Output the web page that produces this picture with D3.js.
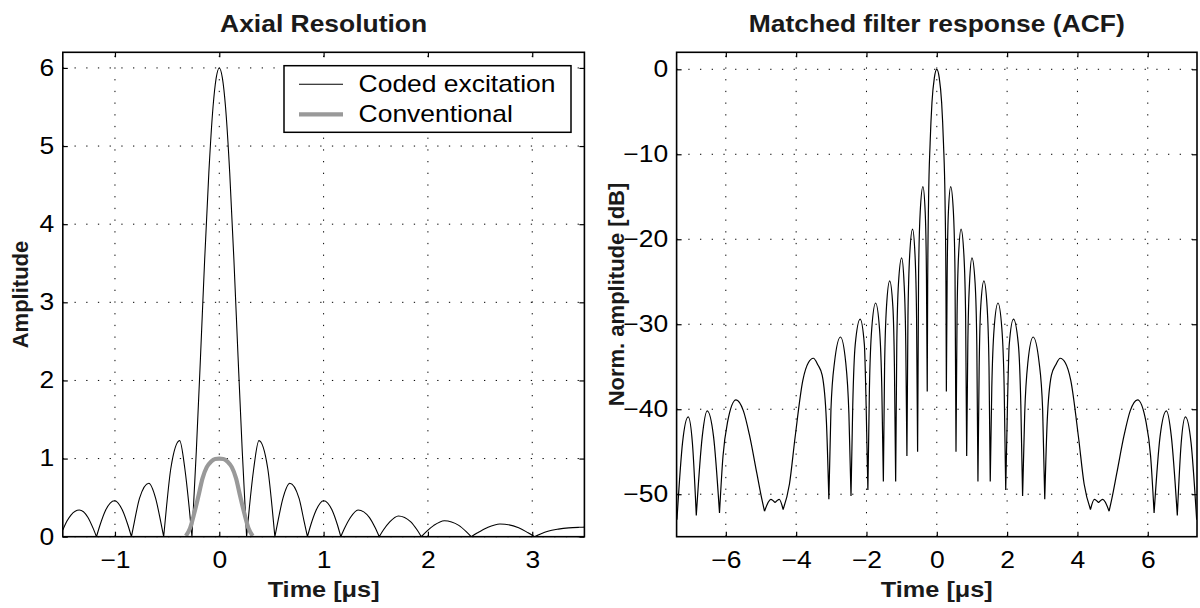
<!DOCTYPE html>
<html>
<head>
<meta charset="utf-8">
<script src="https://cdn.jsdelivr.net/npm/d3@7"></script>
<style>
  body { margin: 0; background: #fff; }
  svg { display: block; background: #fff; }
  .grid line { stroke: #000; stroke-width: 1; stroke-dasharray: 1.3 10.4; }
</style>
</head>
<body>
<svg width="1200" height="608"></svg>
<script>
// values
const codedTime = [-1.5, -1.46, -1.42, -1.342, -1.26, -1.21, -1.177, -1.143, -1.093, -1.004, -0.925, -0.876, -0.842,
  -0.811, -0.765, -0.675, -0.61, -0.564, -0.533, -0.506, -0.465, -0.38, -0.33, -0.289, -0.262,
  -0.22, -0.18, -0.14, -0.10, -0.06, -0.03, 0, 0.03, 0.06, 0.10, 0.14, 0.18, 0.22,
  0.262, 0.289, 0.33, 0.38, 0.465, 0.506, 0.533, 0.564, 0.61, 0.676, 0.765, 0.811, 0.845,
  0.877, 0.925, 1.0, 1.085, 1.133, 1.165, 1.202, 1.257, 1.33, 1.44, 1.496, 1.533,
  1.573, 1.634, 1.717, 1.836, 1.897, 1.937, 1.985, 2.057, 2.157, 2.296, 2.367, 2.415,
  2.476, 2.567, 2.69, 2.87, 2.96, 3.022, 3.08, 3.15, 3.25, 3.35, 3.45, 3.5];
const codedAmp = [0.086, 0.2, 0.28, 0.342, 0.25, 0.11, 0, 0.15, 0.33, 0.461, 0.33, 0.15, 0,
  0.21, 0.49, 0.684, 0.49, 0.21, 0, 0.38, 0.87, 1.23, 0.87, 0.38, 0,
  1.1, 2.3, 3.55, 4.66, 5.5, 5.87, 6.0, 5.87, 5.5, 4.66, 3.55, 2.3, 1.1,
  0, 0.38, 0.87, 1.23, 0.87, 0.38, 0, 0.21, 0.49, 0.684, 0.49, 0.21, 0,
  0.15, 0.33, 0.461, 0.33, 0.15, 0, 0.11, 0.245, 0.342, 0.245, 0.11, 0,
  0.085, 0.19, 0.265, 0.19, 0.085, 0, 0.065, 0.145, 0.205, 0.145, 0.065, 0,
  0.05, 0.115, 0.163, 0.115, 0.05, 0, 0.035, 0.07, 0.097, 0.113, 0.12, 0.122];

const convTime = [-0.32, -0.28, -0.24, -0.2, -0.16, -0.12, -0.08, -0.04, 0, 0.04, 0.08, 0.12, 0.16, 0.2, 0.24, 0.28, 0.32];
const convAmp = [0.01, 0.11, 0.30, 0.52, 0.75, 0.89, 0.96, 0.995, 1.0, 0.995, 0.96, 0.89, 0.75, 0.52, 0.30, 0.11, 0.01];

const acfTime = [-7.39, -7.23, -7.07, -6.95, -6.84, -6.67, -6.53, -6.35, -6.18,
  -6.08, -5.95, -5.71, -5.50, -5.33, -5.12, -4.98, -4.90, -4.72, -4.60, -4.48, -4.37,
  -4.19, -4.03, -3.81, -3.65, -3.51, -3.38, -3.26, -3.14, -3.07,
  -3.01, -2.91, -2.74, -2.59, -2.50, -2.44, -2.39, -2.32, -2.18, -2.06, -2.01, -1.96,
  -1.916, -1.85, -1.74, -1.63, -1.564, -1.52, -1.485, -1.43, -1.34, -1.25, -1.205, -1.17,
  -1.138, -1.09, -1.0, -0.93, -0.882, -0.85, -0.82, -0.77, -0.69, -0.62, -0.576, -0.546,
  -0.518, -0.472, -0.395, -0.33, -0.295, -0.272,
  -0.26, -0.234, -0.19, -0.1375, -0.07, 0, 0.07, 0.1375, 0.19, 0.234, 0.26,
  0.272, 0.295, 0.33, 0.395, 0.472, 0.518, 0.546, 0.576, 0.62, 0.69, 0.77, 0.82, 0.85,
  0.882, 0.93, 1.0, 1.09, 1.138, 1.17, 1.205, 1.25, 1.34, 1.43, 1.485, 1.52,
  1.564, 1.63, 1.74, 1.85, 1.916, 1.96, 2.01, 2.06, 2.18, 2.32, 2.39, 2.44,
  2.50, 2.59, 2.74, 2.91, 3.01, 3.07, 3.14, 3.26, 3.38, 3.51, 3.65, 3.81, 4.03, 4.19, 4.37,
  4.48, 4.60, 4.72, 4.90, 4.98, 5.12, 5.33, 5.50, 5.71, 5.95, 6.08, 6.18,
  6.35, 6.53, 6.67, 6.84, 6.95, 7.07, 7.23, 7.39];
const acfDb = [-53.0, -43.9, -40.9, -44.0, -52.5, -43.2, -40.2, -43.2, -52.2,
  -45.5, -41.5, -38.9, -40.2, -43.0, -47.5, -50.5, -52.0, -50.6, -51.0, -50.6, -51.8,
  -48.8, -43.3, -36.6, -34.5, -34.0, -34.8, -36.0, -41.4, -50.6,
  -40.0, -34.5, -31.5, -34.5, -40.5, -50.2, -39.5, -32.4, -29.4, -32.4, -39.5, -49.5,
  -37.5, -30.5, -27.5, -30.5, -37.5, -48.5, -35.0, -27.9, -24.9, -27.9, -35.0, -48.5,
  -32.4, -25.2, -22.2, -25.2, -32.4, -45.5, -29.0, -21.8, -18.8, -21.8, -29.0, -45.0,
  -24.0, -16.8, -13.8, -16.8, -24.0, -37.9,
  -25.6, -15.4, -8.7, -3.9, -1.0, 0, -1.0, -3.9, -8.7, -15.4, -25.6,
  -37.9, -24.0, -16.8, -13.8, -16.8, -24.0, -45.0, -29.0, -21.8, -18.8, -21.8, -29.0, -45.5,
  -32.4, -25.2, -22.2, -25.2, -32.4, -48.5, -35.0, -27.9, -24.9, -27.9, -35.0, -48.5,
  -37.5, -30.5, -27.5, -30.5, -37.5, -49.5, -39.5, -32.4, -29.4, -32.4, -39.5, -50.2,
  -40.5, -34.5, -31.5, -34.5, -40.0, -50.6, -41.4, -36.0, -34.8, -34.0, -34.5, -36.6, -43.3, -48.8, -51.8,
  -50.6, -51.0, -50.6, -52.0, -50.5, -47.5, -43.0, -40.2, -38.9, -41.5, -45.5, -52.2,
  -43.2, -40.2, -43.2, -52.5, -44.0, -40.9, -43.9, -53.0];

const axialTicksX = [-1, 0, 1, 2, 3];
const axialTicksY = [0, 1, 2, 3, 4, 5, 6];
const acfTicksX = [-6, -4, -2, 0, 2, 4, 6];
const acfTicksY = [0, -10, -20, -30, -40, -50];
const legendLabels = ['Coded excitation', 'Conventional'];

const FONT = "'Liberation Sans', Arial, Helvetica, sans-serif";
const WIDE = 1.15; // the reference text is drawn a little wider than Arial
const fmt = d3.format('d');

const svg = d3.select('svg');

// split a curve at its nulls so every lobe gets its own smooth piece (sharp cusps between lobes)
function lobes(ts, vs) {
  const pts = ts.map((t, i) => [t, vs[i]]);
  const segs = [];
  let cur = [pts[0]];
  for (let i = 1; i < pts.length; i++) {
    cur.push(pts[i]);
    if (i < pts.length - 1 && pts[i][1] < pts[i - 1][1] && pts[i][1] <= pts[i + 1][1]) {
      segs.push(cur);
      cur = [pts[i]];
    }
  }
  segs.push(cur);
  return segs;
}

function panel(box, xDomain, yDomain, xTicks, yTicks, id) {
  const w = box.width, h = box.height;
  const g = svg.append('g').attr('transform', `translate(${box.left},${box.top})`);
  const x = d3.scaleLinear().domain(xDomain).range([0, w]);
  const y = d3.scaleLinear().domain(yDomain).range([h, 0]);

  g.append('clipPath').attr('id', id).append('rect').attr('width', w).attr('height', h);

  // dotted grid
  g.append('g').attr('class', 'grid').selectAll('line').data(xTicks).join('line')
    .attr('x1', d => x(d)).attr('x2', d => x(d)).attr('y1', h).attr('y2', 0);
  g.append('g').attr('class', 'grid').selectAll('line').data(yTicks).join('line')
    .attr('x1', 0).attr('x2', w).attr('y1', d => y(d)).attr('y2', d => y(d));

  const styleAxis = a => {
    a.select('.domain').remove();
    a.attr('font-family', FONT).attr('font-size', 23);
    a.selectAll('.tick line').attr('stroke', '#000').attr('stroke-width', 1.2);
    a.selectAll('.tick text').attr('fill', '#000');
  };

  const bottom = g.append('g').attr('transform', `translate(0,${h})`)
    .call(d3.axisBottom(x).tickValues(xTicks).tickFormat(fmt).tickSizeInner(-5).tickSizeOuter(0).tickPadding(15))
    .call(styleAxis);
  bottom.selectAll('.tick text').attr('transform', `scale(${WIDE},1)`);

  const left = g.append('g')
    .call(d3.axisLeft(y).tickValues(yTicks).tickFormat(fmt).tickSizeInner(-5).tickSizeOuter(0).tickPadding(9))
    .call(styleAxis);
  left.selectAll('.tick text').attr('x', -8.5 / WIDE).attr('transform', `scale(${WIDE},1)`);

  g.append('g')
    .call(d3.axisTop(x).tickValues(xTicks).tickSizeInner(-5).tickSizeOuter(0).tickFormat(() => ''))
    .call(styleAxis);
  g.append('g').attr('transform', `translate(${w},0)`)
    .call(d3.axisRight(y).tickValues(yTicks).tickSizeInner(-5).tickSizeOuter(0).tickFormat(() => ''))
    .call(styleAxis);

  const plot = g.append('g').attr('clip-path', `url(#${id})`);
  g.append('rect').attr('width', w).attr('height', h)
    .attr('fill', 'none').attr('stroke', '#000').attr('stroke-width', 1.6);

  return { g, plot, x, y, w, h };
}

function label(g, text, px, py, opts) {
  return g.append('text')
    .attr('transform', opts.rotate
      ? `translate(${px},${py}) rotate(-90)`
      : `translate(${px},${py}) scale(${WIDE},1)`)
    .attr('text-anchor', opts.anchor || 'middle')
    .attr('font-family', FONT)
    .attr('font-size', opts.size)
    .attr('font-weight', opts.bold ? 'bold' : 'normal')
    .attr('fill', opts.fill || '#000')
    .text(text);
}

// ---- left: axial resolution ----
const A = panel({ left: 62.8, top: 52.3, width: 521.6, height: 484.4 }, [-1.5, 3.5], [0, 6.2], axialTicksX, axialTicksY, 'clipA');

const lineA = d3.line().x(d => A.x(d[0])).y(d => A.y(d[1])).curve(d3.curveMonotoneX);
A.plot.append('path')
  .attr('d', lobes(codedTime, codedAmp).map(s => lineA(s)).join(''))
  .attr('fill', 'none').attr('stroke', '#000').attr('stroke-width', 1.1);
A.plot.append('path')
  .attr('d', lineA(convTime.map((t, i) => [t, convAmp[i]])))
  .attr('fill', 'none').attr('stroke', '#999').attr('stroke-width', 4.2).attr('stroke-linejoin', 'round');

label(A.g, 'Axial Resolution', A.w / 2, -20.6, { size: 23, bold: true, fill: '#1a1a1a' });
label(A.g, 'Time [μs]', A.w / 2, A.h + 60, { size: 22, bold: true, fill: '#1a1a1a' });
label(A.g, 'Amplitude', -34.8, A.h / 2, { size: 22, bold: true, rotate: true, fill: '#1a1a1a' });

// legend
const legend = A.g.append('g').attr('transform', 'translate(221.2,13.4)');
legend.append('rect').attr('width', 287).attr('height', 66.6)
  .attr('fill', '#fff').attr('stroke', '#000').attr('stroke-width', 1.5);
const legendStyles = [{ stroke: '#000', width: 1.1 }, { stroke: '#999', width: 4.2 }];
legendLabels.forEach((name, i) => {
  const cy = 18.6 + i * 30;
  legend.append('line').attr('x1', 15).attr('x2', 59).attr('y1', cy).attr('y2', cy)
    .attr('stroke', legendStyles[i].stroke).attr('stroke-width', legendStyles[i].width);
  label(legend, name, 74.6, cy + 8, { size: 23, anchor: 'start' });
});

// ---- right: matched filter response ----
const B = panel({ left: 676.6, top: 52.3, width: 520.4, height: 484.4 }, [-7.4, 7.4], [-55, 2], acfTicksX, acfTicksY, 'clipB');

const lineB = d3.line().x(d => B.x(d[0])).y(d => B.y(d[1])).curve(d3.curveMonotoneX);
B.plot.append('path')
  .attr('d', lobes(acfTime, acfDb).map(s => lineB(s)).join(''))
  .attr('fill', 'none').attr('stroke', '#000').attr('stroke-width', 1.2);

label(B.g, 'Matched filter response (ACF)', B.w / 2, -20.6, { size: 23, bold: true, fill: '#1a1a1a' });
label(B.g, 'Time [μs]', B.w / 2, B.h + 60, { size: 22, bold: true, fill: '#1a1a1a' });
label(B.g, 'Norm. amplitude [dB]', -52.6, B.h / 2, { size: 22, bold: true, rotate: true, fill: '#1a1a1a' });
</script>
</body>
</html>
